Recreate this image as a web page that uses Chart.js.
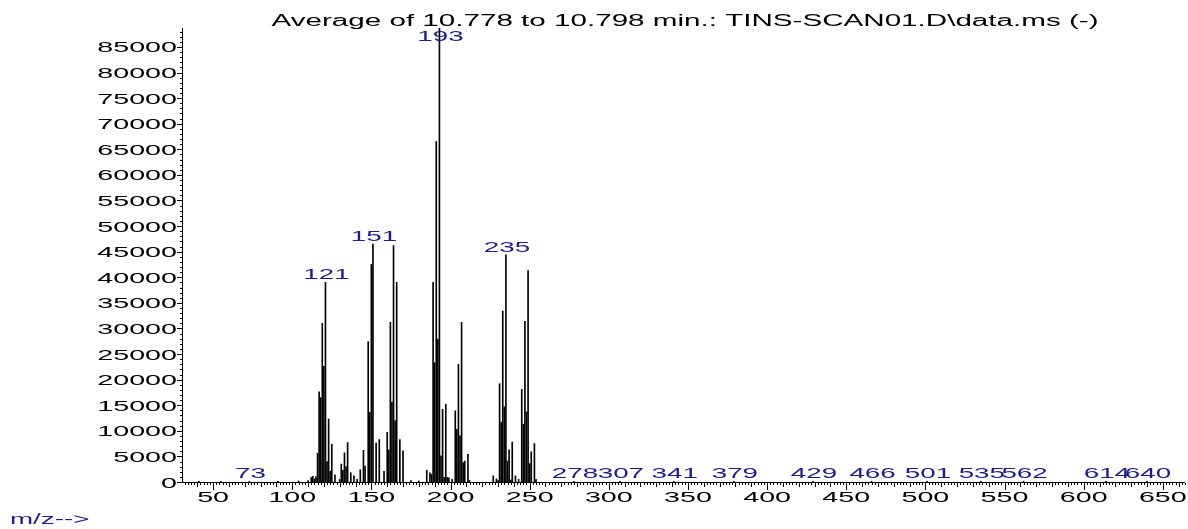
<!DOCTYPE html>
<html>
<head>
<meta charset="utf-8">
<script src="https://cdn.jsdelivr.net/npm/chart.js@4.4.1/dist/chart.umd.min.js"></script>
<style>
  html, body { margin: 0; padding: 0; background: #fff; }
  canvas { display: block; }
</style>
</head>
<body>
<canvas id="spectrum" width="1188" height="529"></canvas>
<script>
// m/z values and their abundances (averaged scan)
const mzValues = [
  41, 55, 73, 91, 104, 110, 112, 113, 114, 115, 116, 117, 118, 119, 120, 121, 122, 123, 124, 125,
  127, 130, 131, 132, 133, 134, 135, 137, 139, 141, 143, 145, 146,
  148, 149, 150, 151, 153, 155, 158, 160, 161, 162, 163, 164, 165, 166, 168, 170,
  175, 180, 185, 187, 188, 189, 190, 191, 192, 193, 194, 195, 196, 197, 198, 199, 201,
  203, 204, 205, 206, 207, 208, 209, 211, 212,
  227, 229, 230, 231, 232, 233, 234, 235, 236, 237, 238, 239, 241, 243,
  245, 246, 247, 248, 249, 250, 251, 253, 254,
  278, 307, 341, 379, 429, 466, 501, 535, 562, 614, 640
];
const abundances = [
  150, 120, 150, 150, 200, 300, 900, 1100, 600, 1000, 5600, 17600, 16500, 31000, 22600, 39000, 4000, 12300, 2100, 7400,
  1400, 500, 3500, 2300, 5700, 3000, 7700, 1800, 1200, 500, 2400, 6200, 3100,
  27400, 13600, 42500, 46500, 7600, 8300, 2100, 9700, 6300, 31200, 15600, 46200, 12000, 39000, 8300, 6100,
  300, 200, 2300, 1800, 1500, 39000, 23300, 66500, 27900, 88700, 5100, 14200, 900, 15200, 900, 800, 500,
  13900, 10300, 23000, 9000, 31200, 3800, 4100, 5400, 300,
  1200, 600, 300, 19200, 11700, 33400, 14700, 44400, 4100, 6300, 400, 7800, 1200, 500,
  18100, 11300, 31400, 13700, 41300, 3600, 5900, 7500, 500,
  150, 150, 150, 150, 150, 150, 150, 150, 150, 150, 150
];
// peaks that get an m/z label
const labelledPeaks = [73, 121, 151, 193, 235, 278, 307, 341, 379, 429, 466, 501, 535, 562, 614, 640];

const xTicks = [50, 100, 150, 200, 250, 300, 350, 400, 450, 500, 550, 600, 650];
const yTicks = [0, 5000, 10000, 15000, 20000, 25000, 30000, 35000, 40000, 45000, 50000, 55000, 60000, 65000, 70000, 75000, 80000, 85000];

const titleText = 'Average of 10.778 to 10.798 min.: TINS-SCAN01.D\\data.ms (-)';
const X_MIN = 31, X_MAX = 664, Y_MAX = 88700;

const FONT = '"Liberation Sans", Arial, sans-serif';
const NAVY = '#1c1c8e';
const SX = 1.85; // horizontal stretch of all lettering

// draws text squeezed/stretched horizontally
function wideText(ctx, text, x, y, align, size, color) {
  ctx.save();
  ctx.font = size + 'px ' + FONT;
  ctx.fillStyle = color;
  ctx.textAlign = 'left';
  ctx.textBaseline = 'alphabetic';
  const w = ctx.measureText(text).width * SX;
  let left = x;
  if (align === 'center') left = x - w / 2;
  else if (align === 'right') left = x - w;
  ctx.translate(left, y);
  ctx.scale(SX, 1);
  ctx.fillText(text, 0, 0);
  ctx.restore();
}

function hLine(ctx, x1, x2, y) {
  ctx.beginPath(); ctx.moveTo(x1, y); ctx.lineTo(x2, y); ctx.stroke();
}
function vLine(ctx, x, y1, y2) {
  ctx.beginPath(); ctx.moveTo(x, y1); ctx.lineTo(x, y2); ctx.stroke();
}

const axesPlugin = {
  id: 'msAxes',
  afterDatasetsDraw(chart) {
    const { ctx, chartArea: a, scales: { x, y } } = chart;
    ctx.save();
    ctx.strokeStyle = '#000';
    ctx.lineWidth = 1;

    // axis lines
    vLine(ctx, a.left - 0.5, a.top, a.bottom + 1);
    hLine(ctx, a.left - 1, a.right, a.bottom + 0.5);

    // y ticks: minor every 1000, major every 5000
    for (let v = 0; v <= Y_MAX; v += 1000) {
      const py = Math.round(y.getPixelForValue(v)) + 0.5;
      const len = v % 5000 === 0 ? 5 : 2;
      hLine(ctx, a.left - 1 - len, a.left - 1, py);
    }
    // x ticks: every 2, 10 and 50
    for (let m = 32; m <= X_MAX; m += 2) {
      const px = Math.round(x.getPixelForValue(m)) + 0.5;
      const len = m % 50 === 0 ? 7 : (m % 10 === 0 ? 4 : 2);
      vLine(ctx, px, a.bottom + 1, a.bottom + 1 + len);
    }
    ctx.restore();

    yTicks.forEach(v => {
      wideText(ctx, String(v), a.left - 6, y.getPixelForValue(v) + 5.5, 'right', 15.5, '#000');
    });
    xTicks.forEach(m => {
      wideText(ctx, String(m), x.getPixelForValue(m), a.bottom + 20, 'center', 15.5, '#000');
    });

    // peak labels sit just above the peak top, kept inside the plot
    labelledPeaks.forEach(m => {
      const i = mzValues.indexOf(m);
      if (i < 0) return;
      const px = x.getPixelForValue(m) + 1;
      const py = Math.max(y.getPixelForValue(abundances[i]) - 3, a.top + 13);
      wideText(ctx, String(m), px, py, 'center', 15, NAVY);
    });

    wideText(ctx, titleText, 685, 26, 'center', 16, '#000');
    wideText(ctx, 'm/z-->', 10, 524, 'left', 15, NAVY);
  }
};

const points = mzValues.map((m, i) => ({ x: m, y: abundances[i] }));

new Chart(document.getElementById('spectrum'), {
  type: 'bar',
  data: {
    datasets: [{
      data: points,
      backgroundColor: '#000',
      borderWidth: 0,
      barThickness: 1
    }]
  },
  options: {
    responsive: false,
    animation: false,
    devicePixelRatio: 1,
    layout: { padding: { left: 183, right: 3, top: 28, bottom: 47 } },
    plugins: { legend: { display: false }, tooltip: { enabled: false } },
    scales: {
      x: { type: 'linear', min: X_MIN, max: X_MAX, offset: false, display: false },
      y: { min: 0, max: Y_MAX, display: false }
    }
  },
  plugins: [axesPlugin]
});
</script>
</body>
</html>
